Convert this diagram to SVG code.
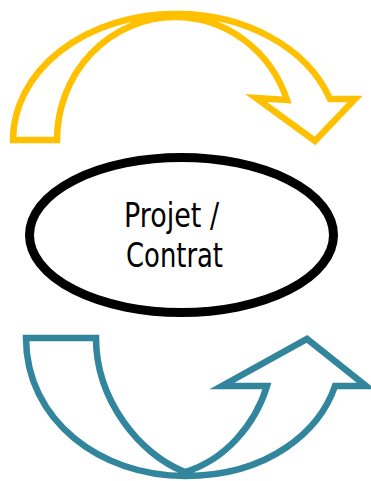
<svg xmlns="http://www.w3.org/2000/svg" width="371" height="481" viewBox="0 0 371 481">
<style>
.arrow{fill:none;stroke-width:6.5;stroke-linejoin:miter;stroke-miterlimit:10}
.yellow{stroke:#FFC000}
.teal{stroke:#31859C}
.label{font-family:"Liberation Sans Narrow","DejaVu Sans Condensed","Liberation Sans",sans-serif;font-size:34px;fill:#000;text-anchor:middle}
</style>
<rect width="371" height="481" fill="#fff"/>
<g id="connectors">
<g id="top-arrow">
<path class="arrow yellow" d="M13,140 A162,126 0 0 1 175,14 A162,126 0 0 1 330,99 L355,99 L315,141 L256,98 L287,100 A118,123 0 0 0 175,17 A118,123 0 0 0 57,140 Z"/>
</g>
<g id="bottom-arrow">
<path class="arrow teal" d="M26,338 L96,338 C96,400 140,455 185,472 C225,460 255,425 267,386 L222,386 L307,339 L366,386 L335,386 C320,430 270,476 185,476 C100,476 26,420 26,338 Z"/>
</g>
</g>
<g id="node-projet">
<ellipse cx="181.5" cy="235" rx="152" ry="77.5" fill="#fff" stroke="#000" stroke-width="9"/>
<text class="label" x="171.5" y="227" textLength="95" lengthAdjust="spacingAndGlyphs">Projet /</text>
<text class="label" x="174.5" y="267" textLength="97" lengthAdjust="spacingAndGlyphs">Contrat</text>
</g>
</svg>
